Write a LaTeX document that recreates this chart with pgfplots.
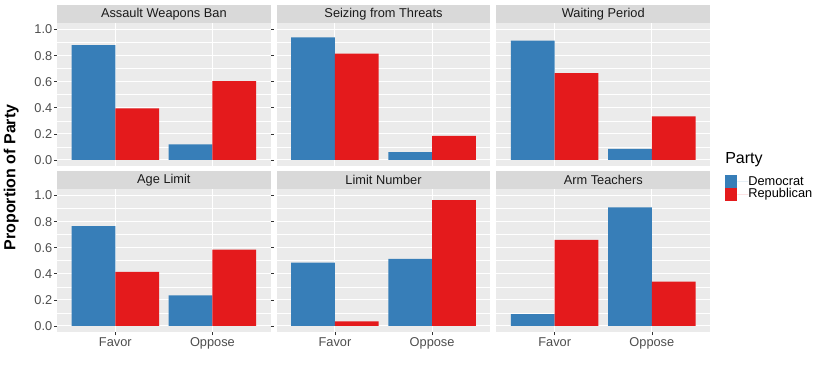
\documentclass[border=0pt]{standalone}
\usepackage{pgfplots}
\pgfplotsset{compat=1.18}
\usepackage{fontspec}
\setmainfont{Liberation Sans}
\definecolor{panelbg}{HTML}{EBEBEB}
\definecolor{stripbg}{HTML}{D9D9D9}
\definecolor{tickgray}{HTML}{4D4D4D}
\definecolor{tickline}{HTML}{333333}
\definecolor{stripgray}{HTML}{1A1A1A}
\definecolor{dem}{HTML}{377EB8}
\definecolor{rep}{HTML}{E41A1C}
\pgfplotsset{
  panel/.style={
    scale only axis, width=160.3pt, height=107.6pt,
    anchor=north west,
    xmin=0.4, xmax=2.6, ymin=-0.05, ymax=1.05,
    axis background/.style={fill=panelbg},
    axis line style={draw=none},
    grid=both,
    major grid style={white, line width=0.8pt},
    minor grid style={white, line width=0.4pt},
    ytick={0,0.2,0.4,0.6,0.8,1},
    minor ytick={0.1,0.3,0.5,0.7,0.9},
    xtick={1,2}, xticklabels={Favor,Oppose},
    tick align=outside, major tick length=2.2pt,
    tick style={tickline, line width=0.5pt},
    minor tick length=0pt,
    ticklabel style={font=\fontsize{9.6}{11}\selectfont, text=tickgray},
    /pgf/number format/assume math mode=true,
    yticklabel={\pgfmathprintnumber[fixed, fixed zerofill, precision=1]{\tick}},
    yticklabel style={inner sep=1.2pt},
    xticklabel style={inner sep=1.5pt},
    ybar, bar width=0.45,
    clip=false,
  },
  noy/.style={yticklabels={}, ytick style={draw=none}},
  nox/.style={xticklabels={}, xtick style={draw=none}},
  dembar/.style={fill=dem, draw=none, bar shift=-0.225},
  repbar/.style={fill=rep, draw=none, bar shift=0.225},
}
\newcommand\strip[3]{%
  \fill[stripbg] (#1,#2) rectangle ++(160.3pt,-13.5pt);
  \node[font=\fontsize{9.6}{11}\selectfont, text=stripgray] at ([xshift=80.15pt,yshift=-6.75pt]#1,#2) {#3};
}
\begin{document}
\begin{tikzpicture}
\useasboundingbox (0,0) rectangle (614.25pt,-276pt);
% top row
\begin{axis}[panel, nox, at={(42.75pt,-17.25pt)}]
\addplot[dembar] coordinates {(1,0.88) (2,0.12)};
\addplot[repbar] coordinates {(1,0.395) (2,0.605)};
\end{axis}
\begin{axis}[panel, nox, noy, at={(207.5pt,-17.25pt)}]
\addplot[dembar] coordinates {(1,0.94) (2,0.06)};
\addplot[repbar] coordinates {(1,0.815) (2,0.185)};
\end{axis}
\begin{axis}[panel, nox, noy, at={(372.3pt,-17.25pt)}]
\addplot[dembar] coordinates {(1,0.915) (2,0.085)};
\addplot[repbar] coordinates {(1,0.665) (2,0.335)};
\end{axis}
% bottom row
\begin{axis}[panel, at={(42.75pt,-141.75pt)}]
\addplot[dembar] coordinates {(1,0.765) (2,0.235)};
\addplot[repbar] coordinates {(1,0.415) (2,0.585)};
\end{axis}
\begin{axis}[panel, noy, at={(207.5pt,-141.75pt)}]
\addplot[dembar] coordinates {(1,0.485) (2,0.515)};
\addplot[repbar] coordinates {(1,0.035) (2,0.965)};
\end{axis}
\begin{axis}[panel, noy, at={(372.3pt,-141.75pt)},
  legend style={at={(1.0697,1.0976)}, anchor=north west, draw=none, fill=none,
    inner sep=0pt, row sep=0pt, column sep=0pt,
    font=\fontsize{9.6}{11}\selectfont,
    nodes={inner sep=0pt, anchor=west, minimum height=9.5pt}},
  legend image code/.code={\fill[#1] (0pt,-4.75pt) rectangle (9pt,4.75pt); \path (9pt,0) -- (17.25pt,0);},
  legend cell align=left]
\addplot[dembar] coordinates {(1,0.09) (2,0.91)};
\addplot[repbar] coordinates {(1,0.66) (2,0.34)};
\legend{Democrat,Republican}
\end{axis}
% strips
\strip{42.75pt}{-3.75pt}{Assault Weapons Ban}
\strip{207.5pt}{-3.75pt}{Seizing from Threats}
\strip{372.3pt}{-3.75pt}{Waiting Period}
\strip{42.75pt}{-128.25pt}{Age Limit}
\strip{207.5pt}{-128.25pt}{Limit Number}
\strip{372.3pt}{-128.25pt}{Arm Teachers}
% labels
\node[rotate=90, font=\bfseries\fontsize{12}{14}\selectfont] at (8.5pt,-133.1pt) {Proportion of Party};
\node[anchor=base west, font=\fontsize{12}{14}\selectfont, inner sep=0pt] at (543.75pt,-122.6pt) {Party};
\end{tikzpicture}
\end{document}
